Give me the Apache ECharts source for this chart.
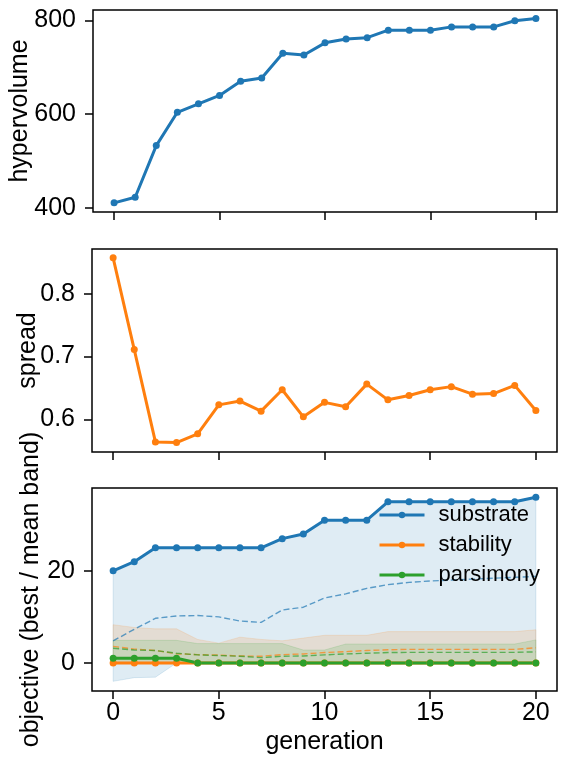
<!DOCTYPE html>
<html>
<head>
<meta charset="utf-8">
<script src="https://cdn.jsdelivr.net/npm/echarts@6/dist/echarts.min.js"></script>
<style>
html,body{margin:0;padding:0;background:#fff;}
#c{width:566px;height:765px;}
</style>
</head>
<body>
<div id="c"></div>
<script>
// ---------- data ----------
const generations = [0,1,2,3,4,5,6,7,8,9,10,11,12,13,14,15,16,17,18,19,20];
const hypervolume = [411,423,533,604,622,640,670,677,730,726,752,760,763,779,779,779,786,786,786,799,804];
const spread = [0.857,0.711,0.564,0.563,0.577,0.623,0.629,0.613,0.647,0.604,0.627,0.620,0.656,0.631,0.638,0.647,0.652,0.640,0.641,0.654,0.614];

const substrateBest = [20,22,25,25,25,25,25,25,27,28,31,31,31,35,35,35,35,35,35,35,36];
const substrateMean = [4.8,7.3,9.7,10.2,10.3,10.0,9.1,8.8,11.5,12.1,14.1,15.0,16.2,17.0,17.5,17.8,18.0,18.2,18.4,18.6,18.8];
const substrateLow  = [-4,-3.2,-3.1,0,0,0,0,0,0,0,0,0,0,0,0,0,0,0,0,0,0];
const substrateHigh = [20,22,25,25,25,25,25,25,27,28,31,31,31,35,35,35,35,35,35,35,36];

const stabilityBest = [0,0,0,0,0,0,0,0,0,0,0,0,0,0,0,0,0,0,0,0,0];
const stabilityMean = [3.6,3.0,2.7,2.0,1.8,1.7,1.5,1.45,1.8,1.95,2.25,2.45,2.7,2.85,2.95,2.95,2.95,2.95,2.95,2.95,3.3];
const stabilityLow  = [0,0,0,0,0,0,0,0,0,0,0,0,0,0,0,0,0,0,0,0,0];
const stabilityHigh = [8.3,7.7,7.4,7.4,5.1,4.3,5.6,5.1,4.8,5.4,6.0,6.0,6.0,6.8,6.8,6.8,6.8,6.8,6.8,6.8,7.2];

const parsimonyBest = [1,1,1,1,0,0,0,0,0,0,0,0,0,0,0,0,0,0,0,0,0];
const parsimonyMean = [3.2,2.8,2.7,2.1,1.75,1.6,1.45,1.15,1.45,1.5,1.75,1.95,2.1,2.25,2.3,2.3,2.3,2.3,2.3,2.3,2.4];
const parsimonyLow  = [0,0,0,0,0,0,0,0,0,0,0,0,0,0,0,0,0,0,0,0,0];
const parsimonyHigh = [4.9,4.9,4.9,4.9,4.2,4.2,4.2,4.2,4.2,2.8,2.8,4.1,4.1,4.1,4.1,4.1,4.1,4.1,4.1,4.1,5.0];

const xTicks = [0,5,10,15,20];
const hvTicks = [400,600,800];
const spreadTicks = [0.6,0.7,0.8];
const objTicks = [0,20];
const objectiveNames = ['substrate','stability','parsimony'];

// ---------- style ----------
const FONT = 'Liberation Sans, Arial, sans-serif';
const FS = 25;
const C = {blue:'#1f77b4', orange:'#ff7f0e', green:'#2ca02c'};
const bandRGBA = {blue:'rgba(31,119,180,0.14)', orange:'rgba(255,127,14,0.14)', green:'rgba(44,160,44,0.14)'};

const pairs = (ys) => generations.map((g,i)=>[g, ys[i]]);

function xAxis(gridIndex, showLabels, name) {
  return {
    type:'value', gridIndex, min:-1, max:21,
    axisLine:{show:false, onZero:false},
    splitLine:{show:false},
    axisTick:{show:true, length:8, lineStyle:{color:'#000', width:1.5}, customValues:xTicks},
    axisLabel:{show:showLabels, customValues:xTicks, color:'#000', fontSize:FS, fontFamily:FONT, margin:10},
    name: name || '', nameLocation:'middle', nameGap:39, nameMoveOverlap:false,
    nameTextStyle:{color:'#000', fontSize:FS, fontFamily:FONT}
  };
}
function yAxis(gridIndex, min, max, ticks, name, gap) {
  return {
    type:'value', gridIndex, min, max,
    axisLine:{show:false, onZero:false},
    splitLine:{show:false},
    axisTick:{show:true, length:8, lineStyle:{color:'#000', width:1.5}, customValues:ticks},
    axisLabel:{customValues:ticks, color:'#000', fontSize:FS, fontFamily:FONT, margin:17},
    name, nameLocation:'middle', nameGap:gap, nameRotate:90, nameMoveOverlap:false,
    nameTextStyle:{color:'#000', fontSize:FS, fontFamily:FONT}
  };
}
function bestSeries(name, data, color, xi) {
  return {
    name, type:'line', xAxisIndex:xi, yAxisIndex:xi, data:pairs(data),
    symbol:'circle', symbolSize:7, showAllSymbol:true,
    lineStyle:{color, width:3}, itemStyle:{color},
    emphasis:{disabled:true}, z:3
  };
}
function meanSeries(name, data, color) {
  return {
    name, type:'line', xAxisIndex:2, yAxisIndex:2, data:pairs(data),
    symbol:'none', lineStyle:{color, width:1.4, type:[6,3], opacity:0.7},
    emphasis:{disabled:true}, z:2
  };
}
function bandSeries(name, lo, hi, rgba) {
  return {
    name, type:'custom', xAxisIndex:2, yAxisIndex:2,
    data: generations.map((g,i)=>[g, lo[i], hi[i]]),
    encode:{x:0, y:[1,2]},
    silent:true, z:1,
    renderItem:(params, api) => {
      if (params.dataIndex !== 0) return null;
      const pts = [];
      for (let i = 0; i < generations.length; i++) pts.push(api.coord([generations[i], hi[i]]));
      for (let i = generations.length - 1; i >= 0; i--) pts.push(api.coord([generations[i], lo[i]]));
      return {type:'polygon', shape:{points:pts}, style:{fill:rgba, stroke:rgba, lineWidth:1}};
    }
  };
}

const grids = [
  {left:92, top:10, width:465, height:202},
  {left:92, top:249, width:465, height:203},
  {left:92, top:488, width:465, height:203}
].map(g => Object.assign(g, {show:true, borderColor:'#000', borderWidth:1.5, backgroundColor:'transparent'}));

const series = [
  bestSeries('hypervolume', hypervolume, C.blue, 0),
  bestSeries('spread', spread, C.orange, 1),
  bandSeries('substrate band', substrateLow, substrateHigh, bandRGBA.blue),
  meanSeries('substrate mean', substrateMean, C.blue),
  bestSeries(objectiveNames[0], substrateBest, C.blue, 2),
  bandSeries('stability band', stabilityLow, stabilityHigh, bandRGBA.orange),
  meanSeries('stability mean', stabilityMean, C.orange),
  bestSeries(objectiveNames[1], stabilityBest, C.orange, 2),
  bandSeries('parsimony band', parsimonyLow, parsimonyHigh, bandRGBA.green),
  meanSeries('parsimony mean', parsimonyMean, C.green),
  bestSeries(objectiveNames[2], parsimonyBest, C.green, 2)
];

const chart = echarts.init(document.getElementById('c'), null, {renderer:'canvas'});
chart.setOption({
  animation:false,
  backgroundColor:'#fff',
  grid:grids,
  xAxis:[xAxis(0,false), xAxis(1,false), xAxis(2,true,'generation')],
  yAxis:[
    yAxis(0, 391.5, 822, hvTicks, 'hypervolume', 60),
    yAxis(1, 0.548, 0.871, spreadTicks, 'spread', 51),
    yAxis(2, -6.1, 38, objTicks, 'objective (best / mean band)', 48)
  ],
  legend:{
    data:objectiveNames, orient:'vertical', left:378, top:504, padding:0,
    itemWidth:45, itemHeight:8, itemGap:8, selectedMode:false,
    lineStyle:{width:3},
    textStyle:{color:'#000', fontSize:22, fontFamily:FONT, padding:[0,0,0,9]}
  },
  series
});
</script>
</body>
</html>
